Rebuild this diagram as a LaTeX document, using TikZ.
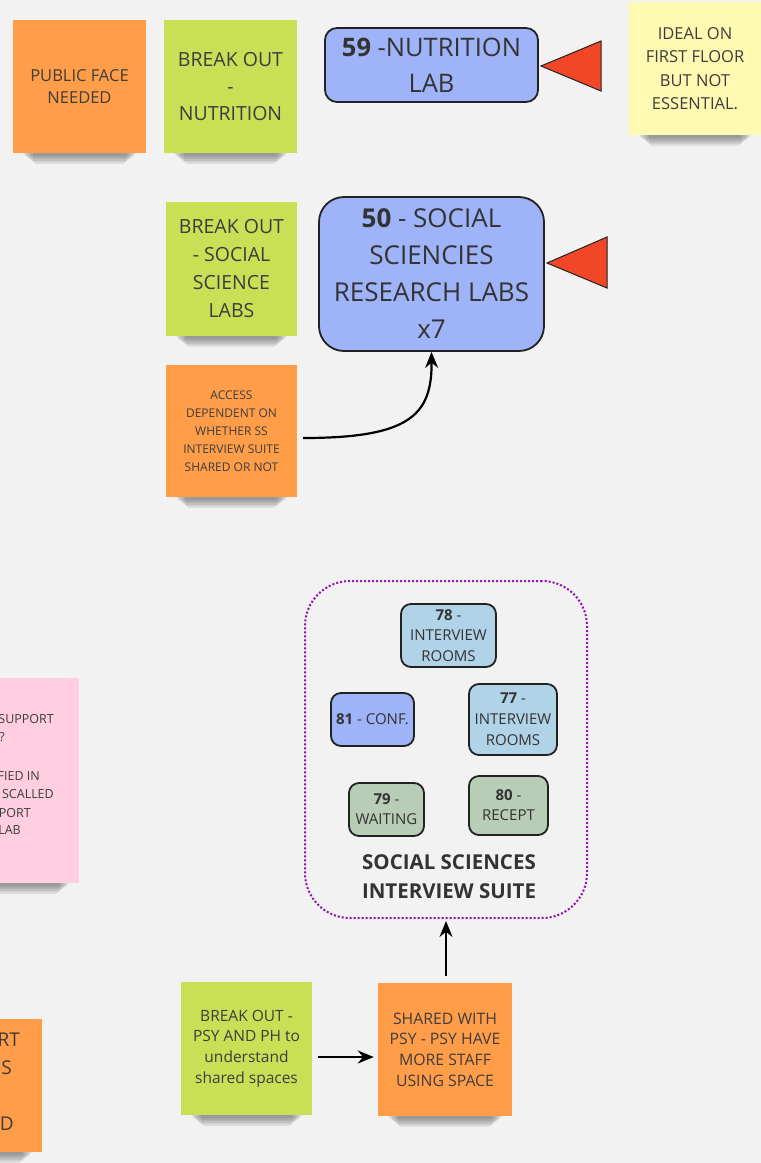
\documentclass[tikz,border=0pt]{standalone}
\usepackage{fontspec}
\setmainfont{Open Sans}
\usetikzlibrary{arrows.meta}
\definecolor{bg}{HTML}{F2F2F2}
\definecolor{sorange}{HTML}{FF9D48}
\definecolor{sgreen}{HTML}{C9DF56}
\definecolor{syellow}{HTML}{FFF9B1}
\definecolor{spink}{HTML}{FFCEE0}
\definecolor{rblue}{HTML}{9EB3F8}
\definecolor{rlight}{HTML}{B1D3E8}
\definecolor{rsage}{HTML}{B7CDB5}
\definecolor{tred}{HTML}{F24726}
\definecolor{spurple}{HTML}{9510AC}
\definecolor{stext}{HTML}{3D3D3D}
\definecolor{btext}{HTML}{333333}
\definecolor{bline}{HTML}{222222}
\newcommand\fs[2]{\fontsize{#1}{#2}\selectfont}
\newcommand\stickyshadow[3]{%
  \foreach \i in {0,...,5}{%
    \fill[black,opacity=0.07,rounded corners=4pt] ({#1+10+\i*2},{#3-4}) rectangle ({#2-10-\i*2},{#3+3+\i*1.6});
  }%
}
\tikzset{
  sticky/.style={minimum width=133pt, minimum height=133pt, inner sep=0pt, align=center, text=stext},
  room/.style={draw=bline, line width=1.8pt, inner sep=0pt, align=center, text=btext},
  conn/.style={line width=2.2pt, draw=black, -{Stealth[length=16pt,width=13pt]}},
  tri/.style={fill=tred, draw=bline, line width=1pt, line join=miter},
  cut/.style={inner sep=0pt, text=stext, anchor=east},
}
\begin{document}
\begin{tikzpicture}[x=1pt,y=-1pt]
\path[use as bounding box, fill=bg] (0,0) rectangle (761,1163);
\begin{scope}
\clip (0,0) rectangle (761,1163);
% shadows
\stickyshadow{13}{146}{153}
\stickyshadow{164}{297}{153}
\stickyshadow{629}{761}{135}
\stickyshadow{166}{297}{336}
\stickyshadow{166}{297}{497}
\stickyshadow{-54}{79}{883}
\stickyshadow{-91}{42}{1152}
\stickyshadow{181}{312}{1115}
\stickyshadow{378}{512}{1116}
% stickies
\node[sticky, fill=sorange, font=\fs{16.5}{22}] (pub) at (79.5,86.5) {PUBLIC FACE\\NEEDED};
\node[sticky, fill=sgreen, font=\fs{19.5}{27}] (bon) at (230.5,86.5) {BREAK OUT\\-\\NUTRITION};
\node[sticky, minimum width=132pt, fill=syellow, font=\fs{16.5}{23.3}] (ideal) at (695,68.5) {IDEAL ON\\FIRST FLOOR\\BUT NOT\\ESSENTIAL.};
\node[sticky, minimum width=131pt, minimum height=134pt, fill=sgreen, font=\fs{19.5}{28}] (boss) at (231.5,269) {BREAK OUT\\- SOCIAL\\SCIENCE\\LABS};
\node[sticky, minimum width=131pt, minimum height=132pt, fill=sorange, font=\fs{12}{18}] (acc) at (231.5,431) {ACCESS\\DEPENDENT ON\\WHETHER SS\\INTERVIEW SUITE\\SHARED OR NOT};
\node[sticky, minimum height=205pt, fill=spink] (pink) at (12.5,780.5) {};
\node[sticky, fill=sorange] (blo) at (-24.5,1085.5) {};
\node[sticky, minimum width=131pt, fill=sgreen, font=\fs{15.5}{20.7}] (bopsy) at (246.5,1048.5) {BREAK OUT -\\PSY AND PH to\\understand\\shared spaces};
\node[sticky, minimum width=134pt, fill=sorange, font=\fs{15.8}{20.7}] (shared) at (445,1049.5) {SHARED WITH\\PSY - PSY HAVE\\MORE STAFF\\USING SPACE};
% cut-off texts on the left edge
\node[cut, font=\fs{12.5}{18}] (p1) at (54,719) {SUPPORT};
\node[cut, font=\fs{12.5}{18}] (p2) at (5,737) {?};
\node[cut, font=\fs{12.5}{18}] (p3) at (40,776) {FIED IN};
\node[cut, font=\fs{12.5}{18}] (p4) at (54,794) {SCALLED};
\node[cut, font=\fs{12.5}{18}] (p5) at (31,813) {PORT};
\node[cut, font=\fs{12.5}{18}] (p6) at (21,830) {LAB};
\node[cut, font=\fs{19}{28}] (o1) at (20,1040) {RT};
\node[cut, font=\fs{19}{28}] (o2) at (12,1068) {S};
\node[cut, font=\fs{19}{28}] (o3) at (14,1124) {D};
% rooms
\node[room, fill=rblue, rounded corners=12pt, minimum width=213pt, minimum height=74pt, font=\fs{25.5}{36}] (b59) at (431.5,65) {\textbf{59} -NUTRITION\\LAB};
\node[room, fill=rblue, rounded corners=25pt, minimum width=225pt, minimum height=154pt, font=\fs{26}{37}] (b50) at (431.5,274) {\textbf{50} - SOCIAL\\SCIENCIES\\RESEARCH LABS\\x7};
\node[draw=spurple, line width=2pt, dotted, rounded corners=45pt, minimum width=282pt, minimum height=337pt, inner sep=0pt] (suite) at (446,749.5) {};
\node[room, fill=rlight, rounded corners=10pt, minimum width=95pt, minimum height=63pt, font=\fs{15}{20.5}] (r78) at (448.5,635.5) {\textbf{78} -\\INTERVIEW\\ROOMS};
\node[room, fill=rblue, rounded corners=10pt, minimum width=83pt, minimum height=53pt, font=\fs{15}{20}] (r81) at (372.5,719.5) {\textbf{81} - CONF.};
\node[room, fill=rlight, rounded corners=10pt, minimum width=88pt, minimum height=71pt, font=\fs{15}{21}] (r77) at (513,719.5) {\textbf{77} -\\INTERVIEW\\ROOMS};
\node[room, fill=rsage, rounded corners=10pt, minimum width=75pt, minimum height=53pt, font=\fs{15}{20}] (r79) at (386.5,809.5) {\textbf{79} -\\WAITING};
\node[room, fill=rsage, rounded corners=10pt, minimum width=79pt, minimum height=59pt, font=\fs{15}{20}] (r80) at (508.5,805.5) {\textbf{80} -\\RECEPT};
\node[inner sep=0pt, align=center, text=btext, font=\bfseries\fs{20.5}{29}] (title) at (449,876.5) {SOCIAL SCIENCES\\INTERVIEW SUITE};
% red triangles
\draw[tri] (541,66) -- (601,41) -- (601,91) -- cycle;
\draw[tri] (547,263) -- (607,237) -- (607,288) -- cycle;
% connectors
\draw[conn] ([shift={(6,7)}]acc.east) .. controls (410,438) and (432,415) .. (b50.south);
\draw[conn] ([shift={(6,8.5)}]bopsy.east) -- ([shift={(-4,7.5)}]shared.west);
\draw[conn] ([shift={(1,-7)}]shared.north) -- ([shift={(0,2)}]suite.south);
\end{scope}
\end{tikzpicture}
\end{document}
